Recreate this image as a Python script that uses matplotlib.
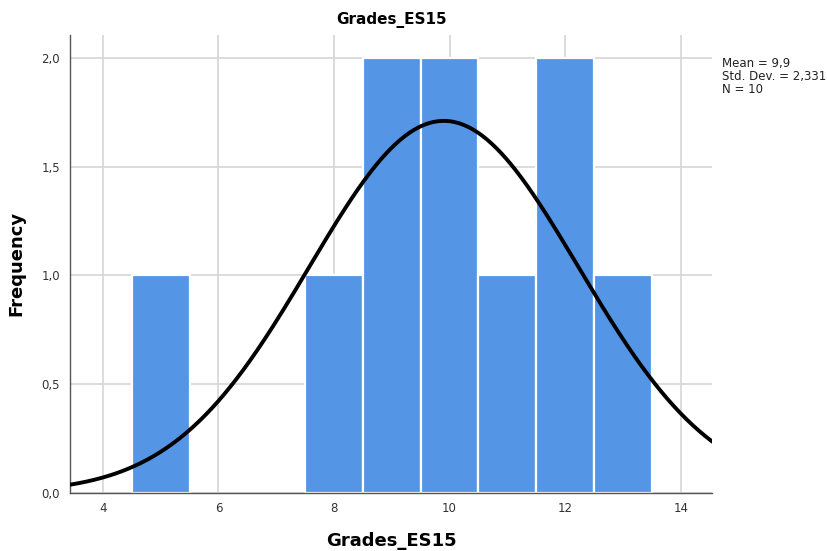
import numpy as np
import matplotlib
matplotlib.use('Agg')
import matplotlib.pyplot as plt
from matplotlib.ticker import FuncFormatter

# histogram bins (centre values) and counts
bin_centres = [5, 8, 9, 10, 11, 12, 13]
counts = [1, 1, 2, 2, 1, 2, 1]
bin_width = 1.0

# summary stats shown in the legend box
mean = 9.9
std_dev = 2.331
n = 10

x_ticks = [4, 6, 8, 10, 12, 14]
y_ticks = [0.0, 0.5, 1.0, 1.5, 2.0]

fig = plt.figure(figsize=(8.28, 5.51), dpi=100)
ax = fig.add_axes([0.0845, 0.106, 0.776, 0.8305])

ax.bar(bin_centres, counts, width=bin_width, color='#5595e5',
       edgecolor='white', linewidth=1.6, zorder=2)

# normal curve from the stated mean / sd, scaled to counts
xs = np.linspace(3.43, 14.55, 400)
ys = n * bin_width / (std_dev * np.sqrt(2 * np.pi)) * np.exp(-0.5 * ((xs - mean) / std_dev) ** 2)
ax.plot(xs, ys, color='black', linewidth=2.8, zorder=3, solid_capstyle='round')

ax.set_xlim(3.43, 14.55)
ax.set_ylim(0, 2.107)
ax.set_xticks(x_ticks)
ax.set_yticks(y_ticks)
ax.yaxis.set_major_formatter(FuncFormatter(lambda v, p: ('%.1f' % v).replace('.', ',')))
ax.xaxis.set_major_formatter(FuncFormatter(lambda v, p: '%d' % v))
ax.tick_params(length=0, labelsize=8.5, colors='#333333', pad=7)

ax.grid(True, color='#d6d6d6', linewidth=1.2, zorder=0)
ax.set_axisbelow(True)
for s in ['top', 'right']:
    ax.spines[s].set_visible(False)
for s in ['left', 'bottom']:
    ax.spines[s].set_color('#555555')
    ax.spines[s].set_linewidth(1.0)

ax.set_title('Grades_ES15', fontsize=11, fontweight='bold', pad=8)
ax.set_xlabel('Grades_ES15', fontsize=13, fontweight='bold', labelpad=12)
ax.set_ylabel('Frequency', fontsize=13, fontweight='bold', labelpad=12)

stats = 'Mean = %s\nStd. Dev. = %s\nN = %d' % (str(mean).replace('.', ','),
                                             str(std_dev).replace('.', ','), n)
fig.text(722 / 828, 1 - 57 / 551, stats, fontsize=8.5, va='top', ha='left',
         linespacing=1.0, color='#222222')

fig.savefig('out.png', dpi=100)
